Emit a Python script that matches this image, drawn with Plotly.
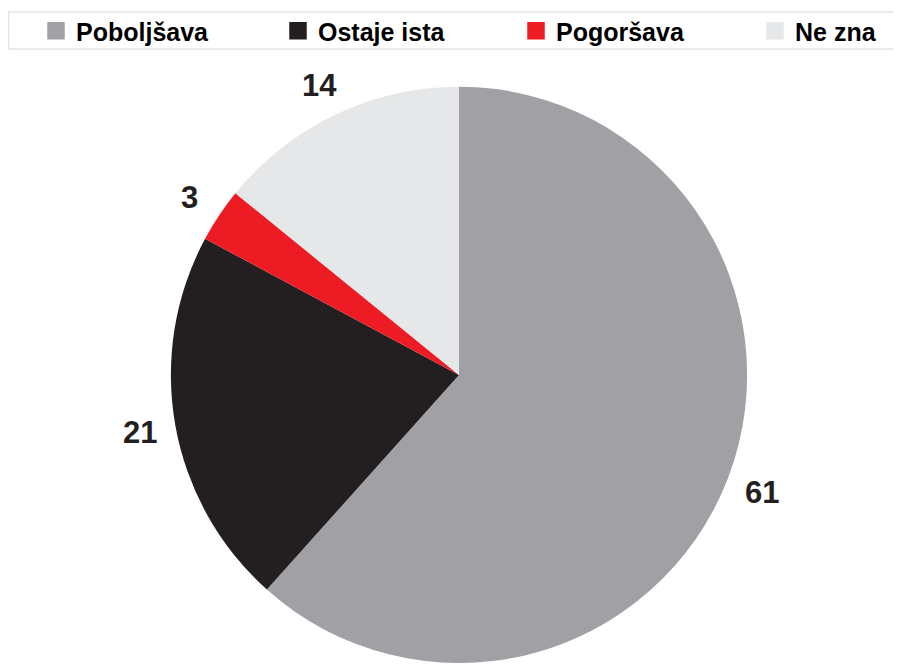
import math
import plotly.graph_objects as go

labels = ["Poboljšava", "Ostaje ista", "Pogoršava", "Ne zna"]
values = [61, 21, 3, 14]
colors = ["#a1a0a5", "#231f20", "#ed1c24", "#e6e7e8"]

# page body has an 8px margin, so the figure is a bit smaller than the window
W, H = 885, 655
CX, CY, R = 451, 368, 289        # pie centre / radius in figure pixels
LABEL_R = R + 35                 # where the value labels sit
LEGEND_TEXT_X = [68, 310, 548, 787]

FONT = "Arial, Liberation Sans"


def make_fig():
    fig = go.Figure()
    fig.add_trace(go.Pie(
        labels=labels,
        values=values,
        sort=False,
        direction="clockwise",
        rotation=0,
        marker=dict(colors=colors, line=dict(width=0)),
        textinfo="none",
        hoverinfo="skip",
        showlegend=False,
        domain=dict(x=[(CX - R) / W, (CX + R) / W], y=[0, 2 * R / H]),
    ))

    # legend entries, one legend each so they can be spaced like the original
    legends = {}
    for i, (lab, col) in enumerate(zip(labels, colors)):
        name = "legend" if i == 0 else "legend%d" % (i + 1)
        fig.add_trace(go.Scatter(
            x=[None], y=[None], mode="markers", name=lab,
            marker=dict(symbol="square", size=16, color=col,
                        line=dict(color=col, width=1.5)),
            legend=name, hoverinfo="skip",
        ))
        legends[name] = dict(
            orientation="h",
            x=(LEGEND_TEXT_X[i] - 40) / W, xanchor="left",
            y=1 - 21 / H, yanchor="middle",
            font=dict(family=FONT, size=25, color="black", weight="bold"),
            bgcolor="rgba(0,0,0,0)", borderwidth=0,
        )

    # value labels outside the slices
    total = sum(values)
    start = 0
    annotations = []
    for v in values:
        mid = (start + v / 2) / total * 2 * math.pi
        start += v
        px = CX + LABEL_R * math.sin(mid)
        py = CY - LABEL_R * math.cos(mid)
        annotations.append(dict(
            x=px / W, y=1 - py / H, xref="paper", yref="paper",
            text=str(v), showarrow=False, xanchor="center", yanchor="middle",
            font=dict(family=FONT, size=31, color="#231f20", weight="bold"),
        ))

    fig.update_layout(
        width=W, height=H,
        margin=dict(l=0, r=0, t=0, b=0),
        paper_bgcolor="white",
        plot_bgcolor="white",
        xaxis=dict(visible=False),
        yaxis=dict(visible=False),
        annotations=annotations,
        shapes=[dict(type="rect", xref="paper", yref="paper",
                     x0=0.5 / W, x1=1.2, y0=1 - 39 / H, y1=1 - 2 / H,
                     line=dict(color="#e3e3e3", width=1.5), fillcolor="rgba(0,0,0,0)",
                     layer="below")],
        **legends,
    )
    return fig


if __name__ == '__main__':
    fig = make_fig()
    fig.write_html("out.html")
